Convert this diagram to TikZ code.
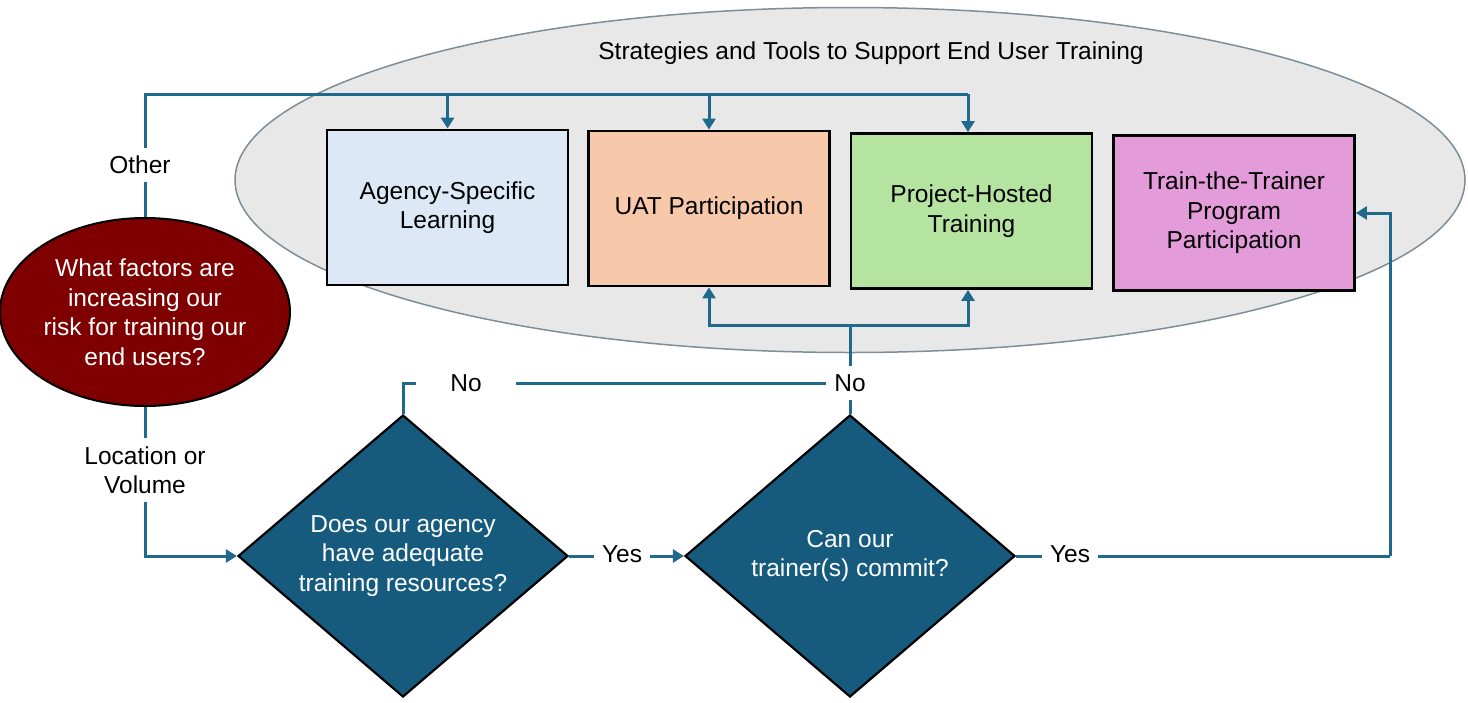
\documentclass[tikz,border=0pt]{standalone}
\usepackage{fontspec}
\setmainfont{Liberation Sans}
\usetikzlibrary{shapes.geometric,arrows.meta}
\definecolor{conncol}{HTML}{1F698C}
\definecolor{dfill}{HTML}{165B7E}
\definecolor{redfill}{HTML}{7F0000}
\definecolor{bgfill}{HTML}{E8E8E8}
\definecolor{bgline}{HTML}{7E8E99}
\definecolor{c1}{HTML}{DCE8F5}
\definecolor{c2}{HTML}{F7C8AA}
\definecolor{c3}{HTML}{B5E3A0}
\definecolor{c4}{HTML}{E39BDA}
\tikzset{
  conn/.style={draw=conncol, line width=3pt},
  arr/.style={conn, -{Triangle[width=13pt,length=11pt]}},
  boxnode/.style={draw=black, line width=2.8pt, minimum width=241pt, minimum height=155pt, align=center, inner sep=0pt},
  dia/.style={diamond, draw=black, line width=2.2pt, fill=dfill, minimum width=330pt, minimum height=282pt, aspect=1.17, inner sep=0pt, text=white, align=center},
  lbl/.style={fill=white, inner sep=8pt, align=center},
  txt/.style={align=center}
}
\begin{document}
\begin{tikzpicture}[x=1pt,y=-1pt, every node/.style={font=\fontsize{24.5}{29.5}\selectfont}]
\useasboundingbox (0,0) rectangle (1468,702);
% background ellipse
\node[ellipse, draw=bgline, line width=1.5pt, fill=bgfill, minimum width=1230pt, minimum height=345pt, inner sep=0pt] (bg) at (850,180) {};
\node[txt] (title) at (871,53) {Strategies and Tools to Support End User Training};
% boxes
\node[boxnode, fill=c1] (b1) at (447.5,207.5) {\raisebox{-3pt}{\parbox{230pt}{\centering Agency-Specific\\Learning}}};
\node[boxnode, fill=c2] (b2) at (709,208.5) {\raisebox{-3pt}{UAT Participation}};
\node[boxnode, fill=c3] (b3) at (971.5,211) {\raisebox{-3pt}{\parbox{230pt}{\centering Project-Hosted\\Training}}};
\node[boxnode, fill=c4] (b4) at (1234,213) {\raisebox{-2pt}{\parbox{230pt}{\centering Train-the-Trainer\\Program\\Participation}}};
% question ellipse
\node[ellipse, draw=black, line width=2pt, fill=redfill, minimum width=290pt, minimum height=188pt, inner sep=0pt] (risk) at (145,312) {};
\node[txt, text=white] (risktext) at (risk.center) {What factors are\\increasing our\\risk for training our\\end users?};
% diamonds
\node[dia] (d1) at (403,556) {Does our agency\\have adequate\\training resources?};
\node[dia] (d2) at (850,556) {Can our\\trainer(s) commit?};
% coordinates
\coordinate (topline) at (968,94);
\coordinate (nomid) at (850,383);
\coordinate (nojoin) at (850,325);
\coordinate (yesright) at (1390,556);
% connectors
\draw[conn] (risk.north) |- (topline);
\draw[arr] (b1.north |- topline) -- (b1.north);
\draw[arr] (b2.north |- topline) -- (b2.north);
\draw[arr] (topline) -- (topline |- b3.north);
\draw[arr] (risk.south) |- (d1.west);
\draw[arr] (d1.east) -- (d2.west);
\draw[conn] (d2.east) -- (yesright);
\draw[arr] (yesright) |- (b4.east);
\draw[conn] (d1.north) |- (nomid);
\draw[conn] (d2.north) -- (nojoin);
\draw[arr] (nojoin) -| (b2.south);
\draw[arr] (nojoin) -| (topline |- b3.south);
% labels
\node[lbl, minimum width=150pt] (lother) at (140,165) {Other};
\node[lbl] (lloc) at (145,470) {Location or\\Volume};
\node[lbl] (lyes1) at (622,554) {Yes};
\node[lbl] (lyes2) at (1070,554) {Yes};
\node[lbl, minimum width=100pt] (lno1) at (466,383) {No};
\node[lbl] (lno2) at (850,383) {No};
\end{tikzpicture}
\end{document}
